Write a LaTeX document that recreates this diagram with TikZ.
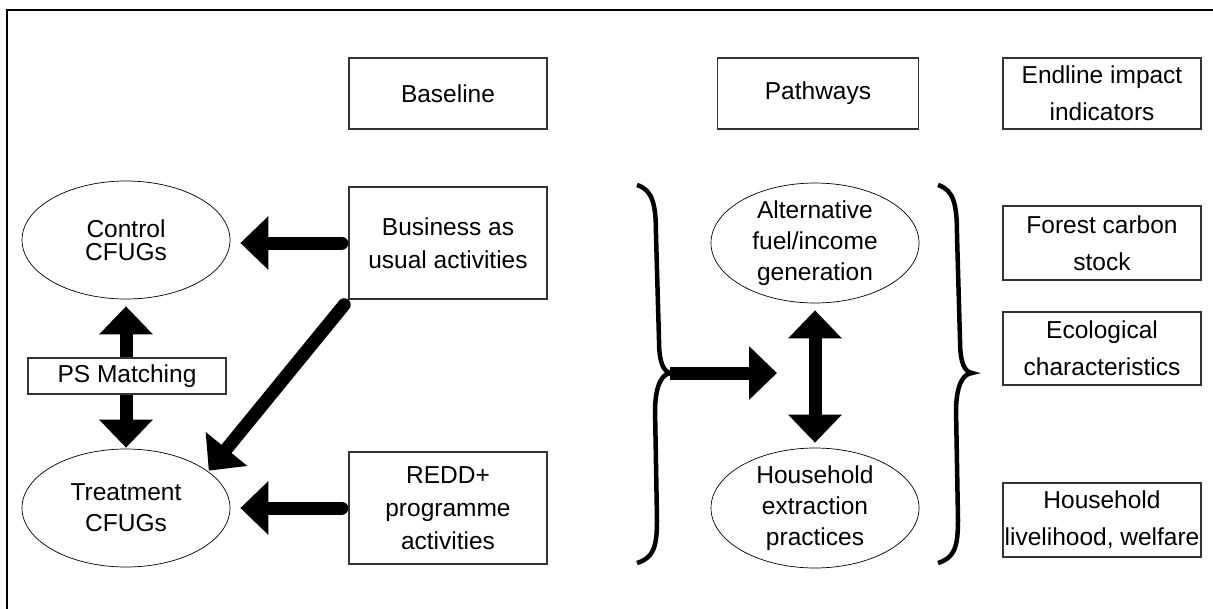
\documentclass[tikz,border=0pt]{standalone}
\usepackage{fontspec}
\setmainfont{Liberation Sans}
\usetikzlibrary{arrows.meta,shapes.geometric}

\tikzset{
  box/.style={draw=black!80, line width=1.3pt, rectangle, align=center, inner sep=0pt,
    minimum width=198pt, font=\fontsize{24.5}{33}\selectfont},
  group/.style={draw, line width=0.7pt, ellipse, align=center, inner sep=0pt,
    minimum width=208pt, minimum height=118pt, font=\fontsize{24.5}{31}\selectfont},
  bigarrow/.style={line width=13pt, line cap=round, -{Triangle[length=28pt,width=52pt]}},
  twoway/.style={line width=13pt, {Triangle[length=28pt,width=52pt]}-{Triangle[length=28pt,width=52pt]}},
  brace/.style={line width=4.5pt},
}

\begin{document}
\begin{tikzpicture}[x=1pt,y=-1pt]
        \useasboundingbox (0,0) rectangle (1213,608);
        % Frame
        \draw[line width=1.6pt] (7,640) -- (7,10) -- (1240,10);

        % Column heads
        \node[box, minimum height=71pt] (base) at (448,93.5) {Baseline};
        \node[box, minimum width=201pt, minimum height=71pt] (path) at (818,93.5) {Pathways};
        \node[box, minimum height=71pt, font=\fontsize{24.5}{37}\selectfont] (endl) at (1102,93.5) {Endline impact\\indicators};

        % Baseline activities
        \node[box, minimum height=112pt] (bau) at (448,243) {Business as\\usual activities};
        \node[box, minimum height=112pt] (redd) at (448,508) {REDD+\\programme\\activities};

        % CFUG groups
        \node[group, font=\fontsize{24.5}{23}\selectfont] (ctrl) at (126,240) {Control\\CFUGs};
        \node[group] (treat) at (126,508) {Treatment\\CFUGs};

        \draw[bigarrow, shorten <=6.5pt, shorten >=10pt] (bau.west) -- (bau.west -| ctrl.east);
        \draw[bigarrow, shorten <=6.5pt, shorten >=1pt] (bau.south west) -- (treat.24);
        \draw[bigarrow, shorten <=6.5pt, shorten >=10pt] (redd.west) -- (redd.west -| treat.east);
        \draw[twoway, shorten <=7pt, shorten >=1pt] (ctrl.south) -- (treat.north);
        \node[box, minimum height=36pt, fill=white] (psm) at (127,376) {PS Matching};

        % Pathways
        \node[group] (alt) at (815,243) {Alternative\\fuel/income\\generation};
        \node[group] (hh) at (815,508) {Household\\extraction\\practices};
        \draw[twoway, shorten <=7pt, shorten >=5pt] (alt.south) -- (hh.north);

        % Braces
        \foreach \bx in {637,938} {
          \draw[brace] (\bx,185) .. controls (\bx+16,190) and (\bx+19,205) .. (\bx+19,235)
            -- (\bx+22,340) .. controls (\bx+22,364) and (\bx+27,372) .. (\bx+34,373)
            .. controls (\bx+25,374) and (\bx+19,384) .. (\bx+18,408)
            -- (\bx+20,520) .. controls (\bx+20,548) and (\bx+16,558) .. (\bx,563);
        }
        \coordinate (ltip) at (670,373);
        \coordinate (aim) at (777,373);
        \draw[bigarrow, line cap=butt] (ltip) -- (aim);

        % Endline indicators
        \node[box, minimum height=74pt, font=\fontsize{24.5}{37}\selectfont] (carbon) at (1102,243) {Forest carbon\\stock};
        \node[box, minimum height=73pt, font=\fontsize{24.5}{37}\selectfont] (eco) at (1102,348.5) {Ecological\\characteristics};
        \node[box, minimum height=74pt, font=\fontsize{24.5}{37}\selectfont] (live) at (1102,520) {Household\\livelihood, welfare};
\end{tikzpicture}
\end{document}
